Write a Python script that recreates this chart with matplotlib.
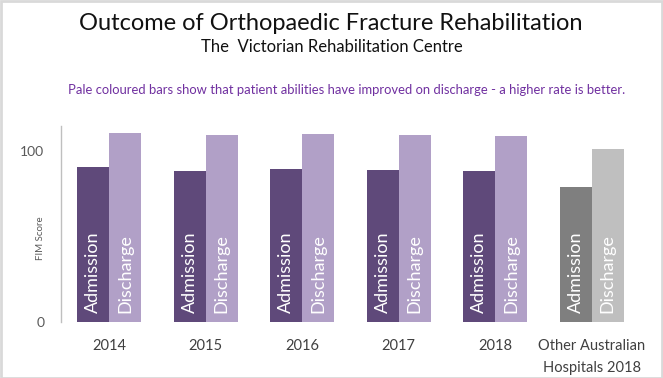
import matplotlib
matplotlib.use("Agg")
import matplotlib.pyplot as plt
import numpy as np
from matplotlib.patches import Rectangle

categories = ["2014", "2015", "2016", "2017", "2018", "Other Australian\nHospitals 2018"]
admission = [90.5, 88.5, 89.3, 89.1, 88.5, 78.8]
discharge = [110.3, 109.2, 109.9, 109.5, 108.6, 101.2]
yticks = [0, 100]

adm_colors = ["#5F497A"] * 5 + ["#7F7F7F"]
dis_colors = ["#B1A0C7"] * 5 + ["#BFBFBF"]

W, H = 663, 378
fig = plt.figure(figsize=(W / 100, H / 100), dpi=100)
ax = fig.add_axes([61 / W, 1 - 322.3 / H, (640 - 61) / W, (322.3 - 126) / H])

x = np.arange(len(categories))
bw = 0.33
ax.bar(x - bw / 2, admission, width=bw, color=adm_colors, edgecolor="none")
ax.bar(x + bw / 2, discharge, width=bw, color=dis_colors, edgecolor="none")

gfont = ["Lato", "DejaVu Sans"]
for xi in x:
    ax.text(xi - bw / 2, 5.5, "Admission", rotation=90, ha="center", va="bottom",
            color="white", fontsize=13, family=gfont)
    ax.text(xi + bw / 2, 5.5, "Discharge", rotation=90, ha="center", va="bottom",
            color="white", fontsize=13, family=gfont)

ax.set_xlim(-0.5, len(categories) - 0.5)
ax.set_ylim(0, 114.6)
ax.set_yticks(yticks)
ax.set_yticklabels([str(v) for v in yticks], color="#595959", fontsize=10, family=gfont)
ax.set_xticks(x)
ax.set_xticklabels(categories, color="#404040", fontsize=10.5, family=gfont, linespacing=1.75)
ax.tick_params(axis="both", length=0)
ax.tick_params(axis="y", pad=12)
ax.tick_params(axis="x", pad=12)
for s in ["top", "right", "bottom"]:
    ax.spines[s].set_visible(False)
ax.spines["left"].set_color("#BFBFBF")
ax.spines["left"].set_linewidth(1.0)
ax.set_ylabel("FIM Score", color="#595959", fontsize=7, family=gfont, labelpad=2)
ax.yaxis.set_label_coords(-0.028, 0.43)

fig.text(331 / W, 1 - 24 / H, "Outcome of Orthopaedic Fracture Rehabilitation",
         ha="center", va="center", fontsize=17, color="#111111", family=gfont)
fig.text(332 / W, 1 - 47 / H, "The  Victorian Rehabilitation Centre",
         ha="center", va="center", fontsize=12, color="#111111", family=gfont)
fig.text(347 / W, 1 - 90.5 / H,
         "Pale coloured bars show that patient abilities have improved on discharge - a higher rate is better.",
         ha="center", va="center", fontsize=9.4, color="#7030A0", family=gfont)

fig.patches.append(Rectangle((0.5 / W, 0.5 / H), 1 - 1.5 / W, 1 - 1.5 / H,
                             transform=fig.transFigure, fill=False,
                             edgecolor="#D9D9D9", linewidth=2))

fig.savefig("out.png", dpi=100)
